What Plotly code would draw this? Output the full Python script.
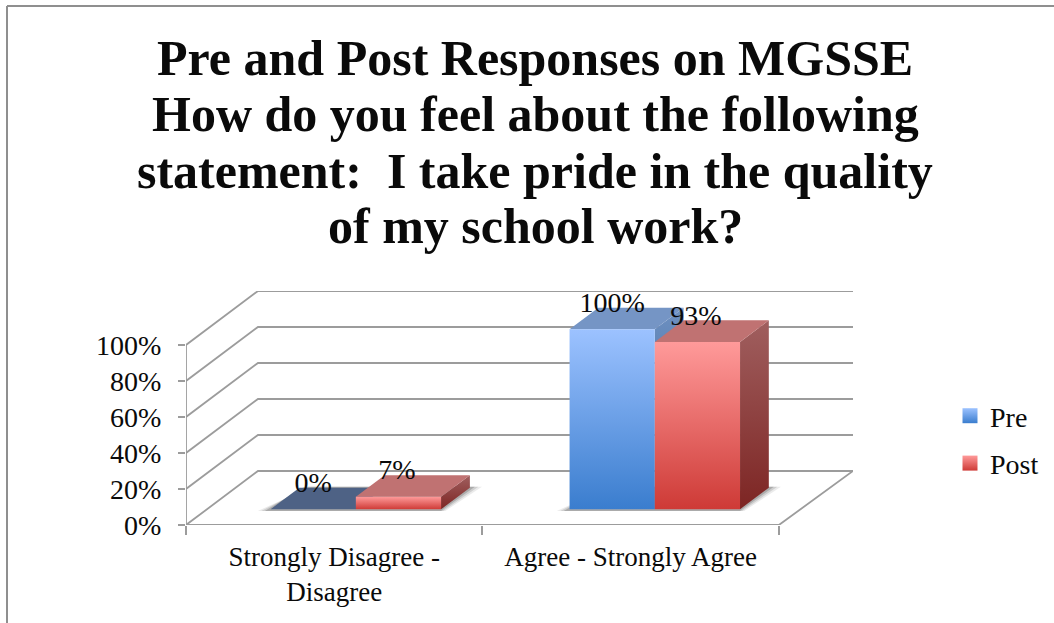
import plotly.graph_objects as go

# ---- data ----
categories = ["Strongly Disagree -<br>Disagree", "Agree - Strongly Agree"]
pre_values = [0, 100]
post_values = [7, 93]
y_ticks = [0, 20, 40, 60, 80, 100]
title_lines = ["Pre and Post Responses on MGSSE",
               "How do you feel about the following",
               "statement:  I take pride in the quality",
               "of my school work?"]
title_centres = [58, 114, 171, 226]

# ---- geometry of the oblique view, in axis units ----
DX, DY = 0.2428, 30.0   # shift of the back wall relative to the front plane
X_MAX = 2.25
BAR_W = 0.2875
CENTRES = [0.5025, 1.511]
D0, D1 = 0.29, 0.69     # bar depth range
GRID = "#9c9c9c"
FONT = "Liberation Serif"
INK = "#0a0a0a"


def proj(x, v, d=0.0):
    return x + d * DX, v + d * DY


def poly(points, **kw):
    xs, ys = zip(*[proj(*p) for p in points])
    return go.Scatter(x=list(xs) + [xs[0]], y=list(ys) + [ys[0]], mode="lines",
                      fill="toself", line=dict(width=0), hoverinfo="skip",
                      showlegend=False, **kw)


def grad(top, bottom):
    return dict(type="vertical", colorscale=[[0, bottom], [1, top]])


def seg(points, width=2, color=GRID):
    xs, ys = zip(*[proj(*p) for p in points])
    return go.Scatter(x=list(xs), y=list(ys), mode="lines", line=dict(color=color, width=width),
                      hoverinfo="skip", showlegend=False, cliponaxis=False)


fig = go.Figure()

# walls and floor
RIGHT = X_MAX - DX
for v in y_ticks:
    fig.add_trace(seg([(0, v, 0), (0, v, 1), (RIGHT, v, 1)], width=1.8))
fig.add_trace(seg([(0, 100), (0, 0), (2, 0), (RIGHT, 0, 1)], width=1.8))

# floor shadows
for c in CENTRES:
    x0 = c - BAR_W
    x1 = c + BAR_W
    for e, a in [(0.036, 0.10), (0.024, 0.16), (0.012, 0.24)]:
        fig.add_trace(poly([(x0 - e, 0, D0 - 0.03), (x1 + e * 0.6, 0, D0 - 0.03),
                            (x1 + e, 0, D1 + 0.02), (x0 + e, 0, D1 + 0.02)],
                           fillcolor=f"rgba(60,60,60,{a})"))


def bar(x0, x1, v, front, top_col, side):
    fig.add_trace(poly([(x1, 0, D0), (x1, 0, D1), (x1, v, D1), (x1, v, D0)], fillgradient=grad(*side)))
    fig.add_trace(poly([(x0, v, D0), (x1, v, D0), (x1, v, D1), (x0, v, D1)], fillcolor=top_col))
    if v > 0:
        fig.add_trace(poly([(x0, 0, D0), (x1, 0, D0), (x1, v, D0), (x0, v, D0)], fillgradient=grad(*front)))


for i, c in enumerate(CENTRES):
    bar(c - BAR_W, c, pre_values[i], ("#9CC2FF", "#3A7DCE"),
        "#4E6285" if pre_values[i] == 0 else "#7595C5", ("#6E90C0", "#2F5F9E"))
for i, c in enumerate(CENTRES):
    bar(c, c + BAR_W, post_values[i], ("#FF9A9A", "#CE3A36"),
        "#C07272", ("#A05F5F", "#7D2523"))

# data labels
for vals, off in ((pre_values, -BAR_W / 2), (post_values, BAR_W / 2 - 0.005)):
    fig.add_trace(go.Scatter(
        x=[c + off + D0 * DX for c in CENTRES],
        y=[v + D0 * DY + 13.5 for v in vals],
        mode="text", text=[f"{v}%" for v in vals], textposition="middle center",
        textfont=dict(family=FONT, size=28, color=INK), hoverinfo="skip", showlegend=False,
        cliponaxis=False))

# legend entries
fig.add_trace(go.Scatter(x=[None], y=[None], mode="markers", name="Pre", legendgroup="a",
                         marker=dict(symbol="square", size=15, color="#9CC2FF",
                                     gradient=dict(type="vertical", color="#3A7DCE"))))
fig.add_trace(go.Scatter(x=[None], y=[None], mode="markers", name="Post", legendgroup="b",
                         marker=dict(symbol="square", size=15, color="#FF9A9A",
                                     gradient=dict(type="vertical", color="#CE3A36"))))

W, H = 1054, 623
L, R, T, B = 186, 201, 291, 98
px = lambda p: (p - L) / (W - L - R)
py = lambda p: (H - B - p) / (H - T - B)

fig.update_layout(
    width=W, height=H, autosize=False,
    margin=dict(l=L, r=R, t=T, b=B),
    plot_bgcolor="rgba(0,0,0,0)", paper_bgcolor="white",
    xaxis=dict(range=[0, X_MAX], showgrid=False, zeroline=False, showline=False,
               tickmode="array", tickvals=[0.5, 1.5], ticktext=categories, ticks="",
               ticklabelstandoff=13,
               tickfont=dict(family=FONT, size=27, color=INK),
               minor=dict(tickmode="array", tickvals=[0, 1, 2], ticks="outside",
                          ticklen=9, tickwidth=1.8, tickcolor=GRID)),
    yaxis=dict(range=[0, 130], showgrid=False, zeroline=False, showline=False,
               tickmode="array", tickvals=y_ticks, ticktext=[f"{v}%" for v in y_ticks],
               ticks="outside", ticklen=7, tickwidth=1.8, tickcolor=GRID, ticklabelstandoff=11,
               tickfont=dict(family=FONT, size=28, color=INK)),
    legend=dict(xref="container", yref="container", x=950 / W, xanchor="left",
                y=1 - 391 / H, yanchor="top",
                font=dict(family=FONT, size=28, color=INK),
                tracegroupgap=8, traceorder="grouped", bgcolor="rgba(0,0,0,0)"),
    annotations=[dict(text=t, xref="paper", yref="paper", x=px(535), y=py(c),
                      xanchor="center", yanchor="middle", showarrow=False,
                      font=dict(family=FONT, size=50, color=INK, weight="bold"))
                 for t, c in zip(title_lines, title_centres)],
    shapes=[
        dict(type="line", xref="paper", yref="paper", x0=px(7), x1=px(W), y0=py(6), y1=py(6),
             line=dict(color="#8f8f8f", width=2)),
        dict(type="line", xref="paper", yref="paper", x0=px(7), x1=px(7), y0=py(6), y1=py(H),
             line=dict(color="#8f8f8f", width=2)),
    ],
)

fig.write_html("out.html", config={"displayModeBar": False},
               post_script="document.body.style.margin='0';document.body.style.overflow='hidden';")
